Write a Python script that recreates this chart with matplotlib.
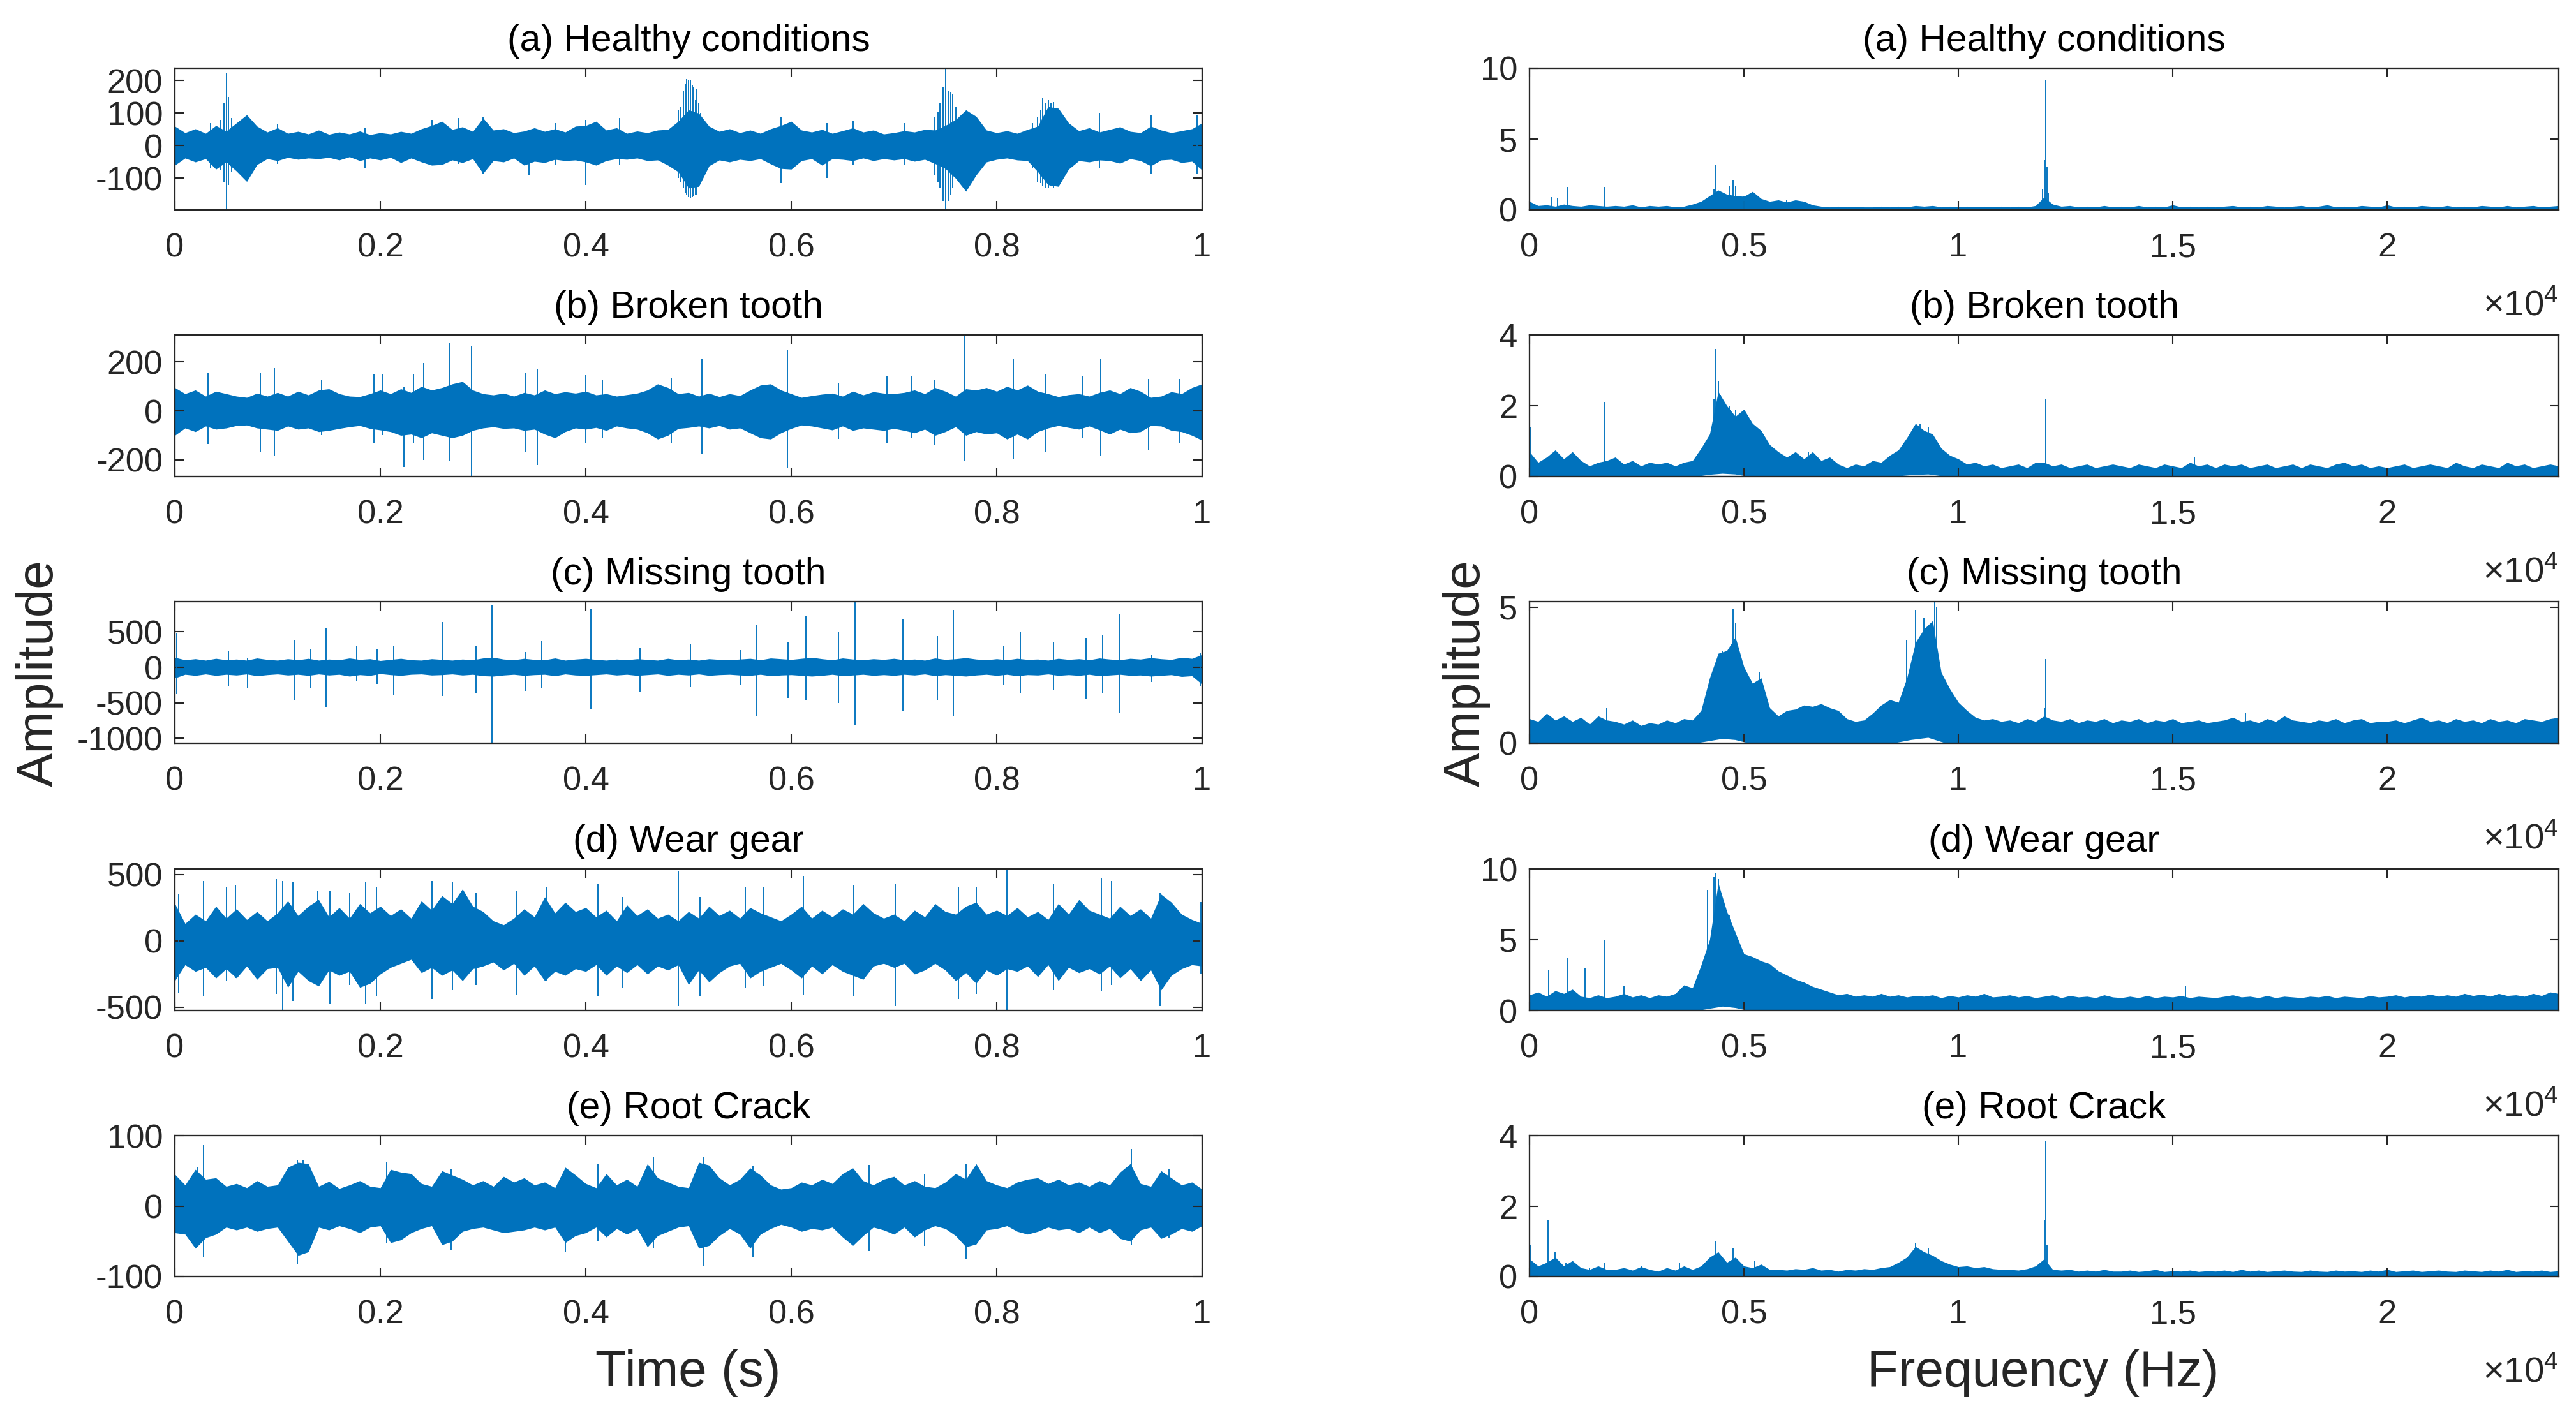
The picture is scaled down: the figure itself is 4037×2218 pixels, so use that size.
#!/usr/bin/env python3
"""
Gearbox vibration signals: time domain (left) and spectrum (right)
Traces are redrawn from envelopes and peaks read off the original figure
"""

import matplotlib
matplotlib.use('Agg')
import matplotlib.pyplot as plt
import numpy as np

WIDTH, HEIGHT, DPI = 4037, 2218, 300
BLUE = '#0072BD'
DARK = '#262626'

plt.rcParams['font.family'] = ['Liberation Sans', 'DejaVu Sans']
plt.rcParams['mathtext.fontset'] = 'custom'
plt.rcParams['mathtext.rm'] = 'Liberation Sans'

titles = ['(a) Healthy conditions', '(b) Broken tooth', '(c) Missing tooth', '(d) Wear gear', '(e) Root Crack']

# time domain limits and ticks
time_ylims = [(-197, 238), (-268, 310), (-1069, 926), (-524, 541), (-100, 100)]
time_yticks = [[-100, 0, 100, 200], [-200, 0, 200], [-1000, -500, 0, 500], [-500, 0, 500], [-100, 0, 100]]
time_xticks = [0, 0.2, 0.4, 0.6, 0.8, 1]
time_xticklabels = ['0', '0.2', '0.4', '0.6', '0.8', '1']

# time domain envelopes, one value every 0.01 s
time_hi_a = [60, 40, 52, 38, 62, 45, 70, 95, 60, 42,
             55, 38, 44, 36, 48, 35, 42, 36, 45, 34,
             40, 36, 44, 38, 52, 62, 75, 50, 58, 44,
             85, 48, 52, 40, 45, 55, 44, 52, 42, 60,
             62, 75, 48, 55, 38, 45, 40, 48, 50, 75,
             110, 100, 60, 44, 52, 40, 48, 38, 52, 62,
             75, 48, 42, 50, 38, 46, 55, 42, 48, 36,
             40, 46, 42, 50, 48, 62, 80, 110, 90, 48,
             40, 46, 38, 50, 60, 120, 115, 70, 46, 55,
             42, 50, 58, 44, 40, 60, 48, 40, 46, 52, 70]
time_lo_a = [-60, -38, -50, -40, -72, -50, -78, -110, -58, -40,
             -46, -36, -42, -38, -40, -36, -44, -34, -46, -38,
             -44, -36, -52, -38, -50, -60, -58, -44, -52, -40,
             -85, -46, -50, -38, -60, -48, -52, -42, -46, -44,
             -50, -60, -46, -40, -42, -38, -46, -44, -60, -80,
             -130, -125, -62, -44, -50, -42, -46, -40, -56, -70,
             -72, -46, -40, -60, -40, -42, -46, -38, -46, -40,
             -44, -40, -48, -42, -55, -70, -100, -140, -90, -50,
             -42, -38, -44, -46, -80, -120, -125, -72, -46, -50,
             -44, -46, -54, -40, -46, -62, -44, -42, -52, -48, -75]
time_hi_b = [95, 70, 85, 60, 80, 70, 60, 55, 72, 60,
             75, 60, 80, 65, 85, 90, 70, 60, 58, 70,
             85, 70, 90, 75, 100, 85, 95, 110, 120, 85,
             70, 65, 72, 60, 75, 65, 85, 70, 78, 72,
             80, 65, 70, 60, 66, 72, 85, 110, 95, 70,
             75, 60, 72, 58, 70, 62, 85, 105, 110, 85,
             70, 55, 62, 68, 72, 60, 80, 65, 78, 72,
             70, 75, 85, 70, 95, 80, 60, 90, 85, 95,
             80, 100, 85, 105, 80, 70, 58, 66, 70, 60,
             75, 85, 70, 95, 80, 55, 60, 78, 70, 95, 110]
time_lo_b = [-100, -70, -85, -62, -75, -70, -60, -58, -70, -75,
             -80, -62, -75, -70, -85, -80, -72, -65, -60, -72,
             -78, -85, -100, -95, -110, -90, -100, -110, -100, -80,
             -70, -65, -72, -70, -80, -75, -95, -110, -85, -70,
             -75, -68, -80, -62, -70, -75, -90, -115, -100, -72,
             -68, -62, -70, -60, -75, -70, -90, -110, -115, -90,
             -72, -58, -62, -70, -78, -62, -80, -70, -75, -80,
             -72, -80, -90, -75, -100, -85, -65, -100, -85, -95,
             -90, -115, -95, -115, -85, -70, -60, -68, -75, -62,
             -78, -95, -75, -90, -85, -60, -62, -80, -85, -100, -120]
time_hi_c = [140, 105, 120, 100, 125, 105, 115, 100, 130, 110,
             100, 120, 105, 125, 100, 115, 105, 130, 110, 120,
             95, 110, 125, 105, 100, 120, 110, 100, 115, 105,
             130, 140, 115, 105, 125, 110, 105, 130, 100, 115,
             125, 110, 100, 115, 105, 120, 110, 100, 125, 105,
             115, 100, 120, 110, 105, 115, 125, 105, 130, 120,
             110, 125, 140, 120, 105, 130, 115, 105, 120, 110,
             125, 105, 115, 100, 130, 110, 120, 135, 115, 105,
             120, 105, 125, 110, 115, 100, 125, 110, 120, 105,
             130, 115, 105, 125, 115, 135, 120, 110, 140, 125, 180]
time_lo_c = [-150, -100, -115, -95, -115, -100, -110, -95, -120, -105,
             -95, -110, -100, -115, -95, -110, -100, -125, -105, -115,
             -90, -105, -115, -100, -95, -110, -105, -95, -110, -100,
             -120, -125, -110, -100, -115, -105, -100, -120, -95, -110,
             -115, -105, -95, -110, -100, -115, -105, -95, -115, -100,
             -110, -95, -115, -105, -100, -110, -115, -100, -120, -110,
             -105, -115, -125, -115, -100, -120, -110, -100, -115, -105,
             -115, -100, -110, -95, -120, -105, -115, -125, -110, -100,
             -115, -100, -120, -105, -110, -95, -115, -105, -115, -100,
             -120, -110, -100, -115, -110, -125, -115, -105, -130, -120, -240]
time_hi_d = [280, 130, 200, 150, 260, 170, 240, 160, 220, 150,
             210, 300, 190, 260, 310, 180, 250, 170, 280, 210,
             260, 190, 240, 170, 300, 230, 340, 280, 390, 260,
             220, 150, 120, 170, 240, 180, 330, 210, 290, 220,
             250, 180, 230, 150, 270, 190, 240, 170, 200, 150,
             220, 170, 260, 190, 230, 170, 250, 210, 180, 150,
             200, 260, 170, 230, 180, 240, 200, 280, 210, 170,
             200, 150, 230, 180, 280, 220, 200, 260, 290, 200,
             230, 190, 250, 180, 220, 160, 280, 200, 310, 230,
             200, 170, 260, 190, 240, 170, 350, 290, 200, 160, 130]
time_lo_d = [-300, -180, -230, -200, -280, -210, -280, -190, -290, -210,
             -200, -350, -230, -300, -340, -220, -260, -230, -350, -320,
             -250, -200, -170, -140, -240, -200, -260, -220, -300, -210,
             -190, -160, -220, -170, -260, -190, -300, -230, -260, -210,
             -230, -180, -260, -190, -240, -180, -250, -190, -220, -180,
             -330, -220, -310, -240, -190, -170, -280, -230, -200, -170,
             -220, -280, -190, -250, -180, -230, -260, -290, -190, -170,
             -200, -170, -250, -220, -170, -220, -300, -240, -320, -220,
             -260, -210, -230, -190, -270, -180, -300, -200, -240, -210,
             -250, -190, -280, -210, -300, -220, -370, -260, -210, -180, -190]
time_hi_e = [45, 30, 52, 38, 40, 28, 32, 26, 36, 28,
             30, 55, 62, 60, 28, 35, 25, 30, 36, 28,
             26, 52, 48, 46, 32, 28, 50, 44, 38, 30,
             36, 28, 42, 34, 40, 30, 34, 26, 55, 44,
             32, 26, 46, 30, 38, 28, 60, 40, 34, 28,
             26, 62, 58, 40, 30, 38, 54, 44, 30, 24,
             26, 34, 30, 38, 32, 46, 54, 36, 30, 38,
             42, 30, 36, 28, 26, 34, 46, 38, 60, 36,
             30, 26, 34, 38, 40, 32, 38, 30, 34, 28,
             36, 30, 48, 60, 32, 28, 50, 40, 30, 34, 24]
time_lo_e = [-38, -40, -60, -45, -40, -30, -34, -30, -36, -32,
             -30, -50, -70, -65, -30, -34, -28, -32, -38, -30,
             -28, -52, -48, -38, -32, -28, -55, -50, -36, -32,
             -30, -34, -38, -36, -34, -30, -34, -30, -52, -42,
             -38, -30, -44, -32, -40, -32, -58, -42, -36, -30,
             -28, -60, -56, -42, -32, -40, -60, -40, -32, -26,
             -30, -36, -32, -34, -30, -44, -56, -42, -30, -34,
             -40, -30, -44, -34, -28, -32, -42, -58, -54, -34,
             -32, -28, -36, -40, -36, -30, -34, -32, -38, -30,
             -38, -32, -46, -50, -34, -30, -46, -40, -32, -36, -28]

# time domain bursts and impacts: time, top, bottom
time_peaks_a = [(0.05, 225, -197), (0.048, 130, -110), (0.052, 150, -120), (0.055, 85, -80), (0.045, 80, -75),
                (0.49, 110, -100), (0.492, 120, -110), (0.495, 170, -130), (0.497, 190, -145), (0.498, 205, -150),
                (0.5, 200, -158), (0.502, 200, -160), (0.504, 185, -158), (0.505, 180, -155), (0.507, 140, -150),
                (0.508, 175, -150), (0.51, 130, -120), (0.512, 100, -100), (0.74, 90, -90), (0.743, 105, -110),
                (0.745, 130, -130), (0.748, 180, -170), (0.7505, 238, -197), (0.753, 170, -170), (0.755, 165, -150),
                (0.757, 160, -130), (0.76, 120, -100), (0.835, 70, -70), (0.84, 90, -110), (0.843, 110, -115),
                (0.845, 145, -125), (0.848, 130, -128), (0.85, 140, -130), (0.853, 130, -125), (0.855, 135, -130),
                (0.86, 110, -90), (0.035, 70, -70), (0.1, 65, -55), (0.185, 55, -70), (0.25, 80, -60),
                (0.276, 85, -55), (0.30, 90, -85), (0.345, 50, -90), (0.37, 70, -60), (0.40, 80, -120),
                (0.433, 85, -60), (0.59, 90, -115), (0.635, 70, -100), (0.66, 75, -60), (0.71, 70, -60),
                (0.9, 100, -70), (0.95, 95, -85), (0.995, 95, -85)]
time_peaks_b = [(0.032, 157, -135), (0.083, 155, -170), (0.097, 175, -185), (0.143, 125, -100), (0.194, 150, -130),
                (0.202, 150, -100), (0.223, 100, -230), (0.232, 150, -130), (0.242, 195, -200), (0.267, 275, -205),
                (0.289, 265, -268), (0.341, 155, -170), (0.353, 170, -220), (0.40, 145, -130), (0.416, 125, -110),
                (0.483, 135, -130), (0.513, 210, -175), (0.596, 250, -235), (0.646, 115, -115), (0.693, 140, -130),
                (0.717, 140, -110), (0.739, 125, -140), (0.769, 310, -205), (0.816, 210, -195), (0.848, 150, -170),
                (0.884, 140, -110), (0.901, 210, -185), (0.948, 130, -160), (0.978, 130, -130)]
time_peaks_c = [(0.002, 480, -380), (0.052, 230, -260), (0.071, 130, -290), (0.116, 390, -460), (0.132, 250, -300),
                (0.147, 560, -570), (0.177, 300, -200), (0.197, 260, -230), (0.213, 310, -390), (0.261, 640, -400),
                (0.293, 300, -370), (0.309, 880, -1069), (0.341, 220, -330), (0.357, 370, -290), (0.405, 820, -580),
                (0.453, 280, -340), (0.502, 320, -280), (0.55, 240, -240), (0.566, 600, -690), (0.597, 360, -430),
                (0.614, 720, -470), (0.646, 500, -500), (0.662, 926, -820), (0.709, 670, -620), (0.742, 440, -470),
                (0.758, 810, -680), (0.807, 300, -250), (0.823, 500, -360), (0.855, 350, -320), (0.887, 410, -450),
                (0.903, 460, -370), (0.919, 750, -650), (0.951, 180, -210), (0.998, 200, -260)]
time_peaks_d = [(0.004, 350, -390), (0.028, 450, -420), (0.05, 400, -300), (0.059, 415, -280), (0.099, 465, -400),
                (0.105, 450, -524), (0.115, 440, -450), (0.139, 380, -330), (0.151, 380, -470), (0.17, 365, -330),
                (0.186, 440, -470), (0.196, 400, -420), (0.25, 450, -440), (0.27, 440, -370), (0.293, 365, -330),
                (0.333, 375, -410), (0.362, 400, -300), (0.412, 425, -420), (0.436, 330, -350), (0.49, 520, -490),
                (0.511, 330, -420), (0.555, 400, -350), (0.573, 400, -340), (0.612, 490, -410), (0.661, 415, -420),
                (0.701, 425, -490), (0.763, 400, -440), (0.78, 400, -400), (0.81, 541, -524), (0.855, 425, -370),
                (0.902, 475, -380), (0.912, 450, -330), (0.959, 365, -490), (0.999, 290, -250)]
time_peaks_e = [(0.028, 86, -72), (0.022, 55, -50), (0.119, 65, -82), (0.125, 65, -65), (0.206, 63, -52),
                (0.269, 52, -62), (0.38, 54, -66), (0.412, 60, -50), (0.466, 69, -60), (0.515, 69, -85),
                (0.563, 57, -73), (0.676, 58, -64), (0.73, 45, -57), (0.77, 60, -75), (0.931, 81, -56),
                (0.968, 52, -45)]

# spectrum limits and ticks
freq_ylims = [(0, 10), (0, 4), (0, 5.2), (0, 10), (0, 4)]
freq_yticks = [[0, 5, 10], [0, 2, 4], [0, 5], [0, 5, 10], [0, 2, 4]]
freq_xticks = [0, 5000, 10000, 15000, 20000]
freq_xticklabels = ['0', '0.5', '1', '1.5', '2']

# spectrum envelopes, one value every 200 Hz
freq_hi_a = [0.6, 0.3, 0.35, 0.25, 0.4, 0.3, 0.25, 0.35, 0.3, 0.25,
             0.3, 0.25, 0.35, 0.2, 0.3, 0.25, 0.3, 0.2, 0.25, 0.4,
             0.6, 1.0, 1.4, 1.1, 1.0, 0.95, 1.3, 0.8, 0.6, 0.7,
             0.55, 0.7, 0.6, 0.35, 0.25, 0.2, 0.25, 0.2, 0.25, 0.2,
             0.2, 0.25, 0.2, 0.25, 0.2, 0.3, 0.25, 0.3, 0.2, 0.25,
             0.2, 0.25, 0.2, 0.25, 0.2, 0.25, 0.2, 0.25, 0.2, 0.3,
             0.9, 0.4, 0.25, 0.3, 0.2, 0.25, 0.2, 0.3, 0.2, 0.25,
             0.2, 0.3, 0.2, 0.25, 0.2, 0.35, 0.2, 0.25, 0.2, 0.25,
             0.2, 0.25, 0.3, 0.2, 0.25, 0.2, 0.3, 0.25, 0.2, 0.25,
             0.3, 0.2, 0.25, 0.35, 0.2, 0.25, 0.2, 0.3, 0.25, 0.2,
             0.35, 0.2, 0.25, 0.2, 0.3, 0.25, 0.2, 0.3, 0.2, 0.25,
             0.2, 0.3, 0.25, 0.2, 0.3, 0.2, 0.25, 0.3, 0.2, 0.25, 0.3]
freq_hi_b = [0.7, 0.4, 0.55, 0.75, 0.5, 0.7, 0.45, 0.3, 0.4, 0.45,
             0.55, 0.35, 0.45, 0.3, 0.4, 0.35, 0.4, 0.3, 0.4, 0.45,
             0.8, 1.2, 2.4, 2.0, 1.7, 1.9, 1.5, 1.3, 0.9, 0.7,
             0.55, 0.7, 0.5, 0.7, 0.45, 0.55, 0.35, 0.25, 0.35, 0.3,
             0.45, 0.4, 0.6, 0.75, 1.1, 1.5, 1.3, 1.2, 0.8, 0.6,
             0.5, 0.35, 0.4, 0.3, 0.35, 0.25, 0.3, 0.35, 0.25, 0.4,
             0.4, 0.3, 0.35, 0.25, 0.3, 0.35, 0.25, 0.3, 0.35, 0.3,
             0.25, 0.35, 0.3, 0.25, 0.35, 0.3, 0.25, 0.4, 0.3, 0.35,
             0.25, 0.35, 0.3, 0.35, 0.25, 0.3, 0.35, 0.25, 0.3, 0.35,
             0.25, 0.35, 0.3, 0.25, 0.35, 0.4, 0.3, 0.35, 0.25, 0.3,
             0.25, 0.3, 0.35, 0.25, 0.3, 0.35, 0.3, 0.25, 0.4, 0.3,
             0.25, 0.35, 0.3, 0.25, 0.4, 0.3, 0.35, 0.25, 0.3, 0.35, 0.3]
freq_hi_c = [0.9, 0.8, 1.1, 0.85, 1.0, 0.8, 0.95, 0.7, 1.0, 0.85,
             0.8, 0.7, 0.85, 0.65, 0.75, 0.7, 0.85, 0.75, 0.9, 0.85,
             1.2, 2.4, 3.3, 3.4, 3.9, 2.8, 2.2, 2.4, 1.3, 1.0,
             1.2, 1.25, 1.4, 1.35, 1.45, 1.3, 1.2, 0.9, 0.8, 0.85,
             1.1, 1.4, 1.6, 1.5, 2.4, 3.7, 4.2, 4.5, 2.6, 2.0,
             1.5, 1.2, 0.95, 0.85, 0.9, 0.8, 0.85, 0.75, 0.9, 0.8,
             1.0, 0.85, 0.8, 0.9, 0.75, 0.85, 0.8, 0.9, 0.75, 0.85,
             0.8, 0.9, 0.75, 0.85, 0.8, 0.9, 0.75, 0.8, 0.85, 0.75,
             0.8, 0.85, 0.95, 0.8, 0.85, 0.75, 0.9, 0.8, 1.0, 0.85,
             0.8, 0.75, 0.85, 0.8, 0.9, 0.75, 0.85, 0.9, 0.75, 0.8,
             0.8, 0.85, 0.75, 0.85, 0.95, 0.8, 0.85, 0.75, 0.9, 0.8,
             0.85, 0.75, 0.9, 0.8, 0.85, 0.75, 0.9, 0.85, 0.8, 0.9, 0.95]
freq_hi_d = [1.1, 1.3, 1.0, 1.4, 1.2, 1.5, 1.0, 0.9, 1.1, 0.9,
             1.0, 1.2, 0.95, 1.1, 0.9, 1.1, 1.0, 1.2, 1.8, 1.6,
             3.2, 5.0, 9.0, 7.0, 5.5, 4.0, 3.8, 3.5, 3.3, 2.8,
             2.5, 2.2, 2.0, 1.7, 1.5, 1.3, 1.1, 1.2, 1.0, 1.1,
             1.0, 1.2, 1.0, 1.1, 0.95, 1.05, 1.0, 1.1, 0.9, 1.05,
             0.95, 1.1, 1.0, 1.2, 0.95, 1.0, 1.1, 0.95, 1.05, 0.9,
             1.0, 1.1, 0.9, 1.05, 0.95, 1.0, 0.9, 1.1, 0.95, 0.9,
             1.0, 0.9, 1.05, 0.9, 1.0, 0.95, 1.05, 0.9, 1.0, 0.95,
             0.9, 1.0, 1.1, 0.95, 1.0, 0.9, 1.05, 0.9, 1.0, 0.95,
             0.9, 1.0, 0.95, 1.05, 0.9, 1.0, 0.95, 0.9, 1.05, 0.95,
             1.0, 1.1, 0.95, 1.05, 1.0, 1.15, 1.0, 1.1, 1.0, 1.2,
             1.05, 1.15, 1.0, 1.2, 1.05, 1.1, 1.0, 1.2, 1.05, 1.3, 1.2]
freq_hi_e = [0.5, 0.3, 0.4, 0.55, 0.3, 0.45, 0.25, 0.2, 0.3, 0.2,
             0.2, 0.25, 0.18, 0.28, 0.2, 0.15, 0.25, 0.18, 0.3, 0.2,
             0.3, 0.55, 0.7, 0.4, 0.55, 0.3, 0.25, 0.35, 0.2, 0.2,
             0.18, 0.22, 0.2, 0.25, 0.18, 0.2, 0.15, 0.2, 0.18, 0.22,
             0.2, 0.25, 0.28, 0.4, 0.55, 0.85, 0.7, 0.6, 0.45, 0.35,
             0.28, 0.3, 0.25, 0.28, 0.22, 0.2, 0.2, 0.18, 0.22, 0.3,
             0.5, 0.2, 0.18, 0.2, 0.15, 0.18, 0.15, 0.2, 0.15, 0.15,
             0.18, 0.14, 0.16, 0.2, 0.14, 0.16, 0.15, 0.18, 0.14, 0.16,
             0.15, 0.18, 0.14, 0.2, 0.15, 0.18, 0.14, 0.16, 0.18, 0.15,
             0.14, 0.18, 0.15, 0.14, 0.18, 0.15, 0.16, 0.14, 0.18, 0.15,
             0.2, 0.14, 0.16, 0.18, 0.14, 0.16, 0.18, 0.15, 0.14, 0.18,
             0.16, 0.14, 0.18, 0.15, 0.2, 0.14, 0.16, 0.15, 0.18, 0.14, 0.16]

# spectrum peaks: frequency, height
freq_peaks_a = [(500, 0.9), (650, 0.8), (900, 1.6), (1750, 1.6), (4300, 1.5), (4350, 3.2), (4650, 1.7), (4750, 2.1),
                (4800, 1.7), (5000, 1.0), (6000, 0.7), (11960, 1.5), (12000, 3.5), (12030, 9.2), (12060, 3.0),
                (12100, 1.2)]
freq_peaks_b = [(20, 1.4), (1750, 2.1), (4300, 2.2), (4350, 3.6), (4400, 2.7), (4450, 2.3), (4650, 2.0), (4800, 1.9),
                (9100, 1.5), (9300, 1.4), (12030, 2.2), (6500, 0.7), (15500, 0.55)]
freq_peaks_c = [(1800, 1.3), (4500, 3.4), (4750, 4.95), (4800, 4.4), (5350, 2.6), (8800, 3.8), (9000, 4.9), (9200, 4.6),
                (9450, 5.2), (9500, 5.0), (12030, 3.1), (12000, 1.3), (16700, 1.1)]
freq_peaks_d = [(450, 2.9), (900, 3.7), (1300, 3.0), (1750, 5.0), (2200, 1.7), (4150, 8.5), (4300, 9.4), (4350, 9.7),
                (4400, 9.3), (4650, 6.7), (15300, 1.7)]
freq_peaks_e = [(20, 0.9), (430, 1.6), (600, 0.7), (850, 0.4), (1400, 0.25), (1750, 0.4), (2600, 0.3), (3500, 0.4),
                (4350, 1.0), (4750, 0.8), (5250, 0.45), (9000, 0.95), (9300, 0.8), (11960, 0.4), (12000, 1.6),
                (12030, 3.85), (12060, 0.9)]

# white flecks under the humps of the spectra
gap_freq = [3900, 4200, 4500, 4800, 5100, 8500, 8900, 9300, 9700]
gap_top_b = [0.0, 0.05, 0.08, 0.06, 0.0, 0.0, 0.04, 0.06, 0.0]
gap_top_c = [0.0, 0.08, 0.16, 0.12, 0.0, 0.0, 0.12, 0.2, 0.0]
gap_top_d = [0.0, 0.15, 0.3, 0.2, 0.0, 0.0, 0.0, 0.0, 0.0]

time_hi = [time_hi_a, time_hi_b, time_hi_c, time_hi_d, time_hi_e]
time_lo = [time_lo_a, time_lo_b, time_lo_c, time_lo_d, time_lo_e]
time_peaks = [time_peaks_a, time_peaks_b, time_peaks_c, time_peaks_d, time_peaks_e]
freq_hi = [freq_hi_a, freq_hi_b, freq_hi_c, freq_hi_d, freq_hi_e]
freq_peaks = [freq_peaks_a, freq_peaks_b, freq_peaks_c, freq_peaks_d, freq_peaks_e]
gap_tops = [None, gap_top_b, gap_top_c, gap_top_d, None]

# axes boxes in pixels of the final picture
row_tops = [107, 525, 943, 1362, 1780]
row_bottoms = [329, 747, 1165, 1584, 2001]
left_x = (274, 1884)
right_x = (2397, 4010)


def make_axes(fig, x_range, top, bottom):
    ax = fig.add_axes([x_range[0] / WIDTH, 1 - bottom / HEIGHT,
                       (x_range[1] - x_range[0]) / WIDTH, (bottom - top) / HEIGHT])
    for spine in ax.spines.values():
        spine.set_linewidth(0.55)
        spine.set_color(DARK)
        spine.set_zorder(5)
    ax.tick_params(direction='in', length=3.3, width=0.5, color=DARK, top=True, right=True,
                   labelsize=12.6, labelcolor=DARK)
    ax.tick_params(axis='x', pad=8.5)
    ax.tick_params(axis='y', pad=4.5)
    return ax


fig = plt.figure(figsize=(WIDTH / DPI, HEIGHT / DPI), dpi=DPI)

for i in range(5):
    # left column: signal in time
    ax = make_axes(fig, left_x, row_tops[i], row_bottoms[i])
    t = np.linspace(0, 1, len(time_hi[i]))
    ax.fill_between(t, time_lo[i], time_hi[i], color=BLUE, linewidth=0)
    peaks = np.array(time_peaks[i])
    ax.vlines(peaks[:, 0], peaks[:, 2], peaks[:, 1], color=BLUE, linewidth=0.45)
    ax.set_xlim(0, 1)
    ax.set_ylim(*time_ylims[i])
    ax.set_xticks(time_xticks)
    ax.set_xticklabels(time_xticklabels)
    ax.set_yticks(time_yticks[i])
    ax.set_yticklabels([str(v) for v in time_yticks[i]])
    ax.set_title(titles[i], fontsize=14.1, color='black', pad=6.5)

    # right column: spectrum
    ax = make_axes(fig, right_x, row_tops[i], row_bottoms[i])
    f = np.linspace(0, 24000, len(freq_hi[i]))
    ax.fill_between(f, 0, freq_hi[i], color=BLUE, linewidth=0)
    peaks = np.array(freq_peaks[i])
    ax.vlines(peaks[:, 0], 0, peaks[:, 1], color=BLUE, linewidth=0.45)
    if gap_tops[i] is not None:
        ax.fill_between(gap_freq, 0.02, gap_tops[i], where=np.array(gap_tops[i]) > 0.02,
                        color='white', linewidth=0, zorder=3, interpolate=True)
    ax.set_xlim(0, 24000)
    ax.set_ylim(*freq_ylims[i])
    ax.set_xticks(freq_xticks)
    ax.set_xticklabels(freq_xticklabels)
    ax.set_yticks(freq_yticks[i])
    ax.set_title(titles[i], fontsize=14.1, color='black', pad=6.5)
    fig.text(right_x[1] / WIDTH, 1 - (row_bottoms[i] + 165) / HEIGHT, r'$\times\mathregular{10^{4}}$',
             ha='right', va='baseline', fontsize=13.5, color=DARK)

# shared axis labels
label_size = 19.2
fig.text(62 / WIDTH, 1 - 1055 / HEIGHT, 'Amplitude', rotation=90, ha='center', va='center',
         fontsize=label_size, color=DARK)
fig.text(2298 / WIDTH, 1 - 1055 / HEIGHT, 'Amplitude', rotation=90, ha='center', va='center',
         fontsize=label_size, color=DARK)
fig.text(1078 / WIDTH, 1 - 2152 / HEIGHT, 'Time (s)', ha='center', va='center', fontsize=label_size, color=DARK)
fig.text(3202 / WIDTH, 1 - 2152 / HEIGHT, 'Frequency (Hz)', ha='center', va='center', fontsize=label_size, color=DARK)

plt.savefig('out.png', dpi=DPI)
plt.close()
